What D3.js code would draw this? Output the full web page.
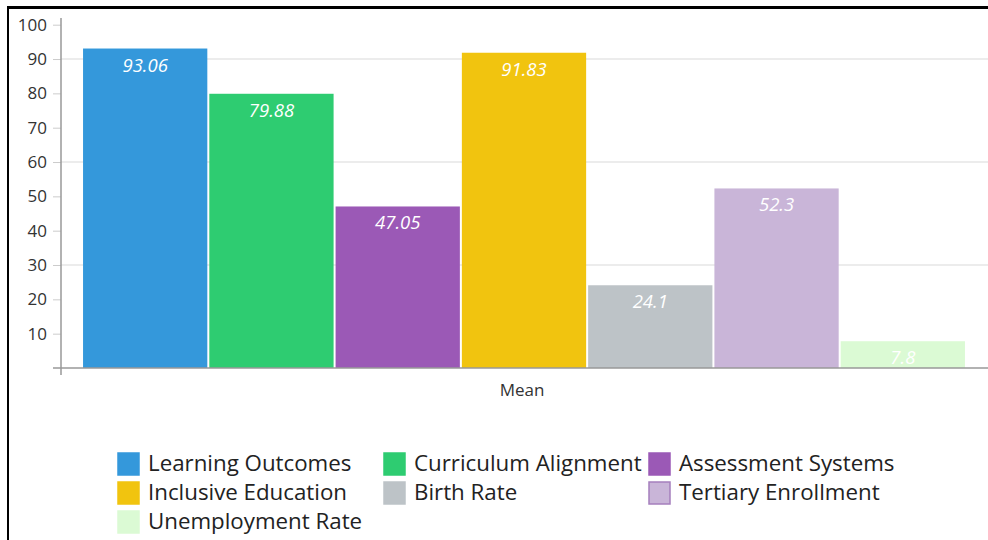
<!DOCTYPE html>
<html>
<head>
<meta charset="utf-8">
<script src="https://cdn.jsdelivr.net/npm/d3@7"></script>
<style>
  body { margin: 0; background: #fff; font-family: "Open Sans", sans-serif; }
  .frame { position: absolute; left: 7px; top: 6px; width: 1000px; height: 600px;
           border-left: 2px solid #000; border-top: 3px solid #000; }
</style>
</head>
<body>
<div class="frame"></div>
<div id="chart" style="position:absolute;left:0;top:0;"></div>
<script>
// bar chart, one category with seven series

var categories = ["Mean"];
var seriesNames = ["Learning Outcomes", "Curriculum Alignment", "Assessment Systems",
                   "Inclusive Education", "Birth Rate", "Tertiary Enrollment", "Unemployment Rate"];
var seriesValues = [93.06, 79.88, 47.05, 91.83, 24.1, 52.3, 7.8];
var seriesColors = ["#3498db", "#2ecc71", "#9b59b6", "#f1c40f", "#bdc3c7", "#c9b5d8", "#dbfad4"];
var yTicks = [10, 20, 30, 40, 50, 60, 70, 80, 90, 100];
var gridTicks = [30, 60, 90];

var svgWidth = 988, svgHeight = 540;
var axisX = 61, axisY = 368;

var svg = d3.select("#chart")
    .append("svg")
    .attr("width", svgWidth)
    .attr("height", svgHeight);

var yScale = d3.scaleLinear()
    .domain([0, 100])
    .range([axisY, axisY - 343.3]);

var x0 = d3.scaleBand()
    .domain(categories)
    .range([axisX, 987])
    .paddingInner(0)
    .paddingOuter(21 / 882);

var x1 = d3.scaleBand()
    .domain(seriesNames)
    .range([0, x0.bandwidth()]);

// grid lines
svg.append("g")
    .selectAll("line")
    .data(gridTicks)
    .enter()
    .append("line")
    .attr("x1", axisX)
    .attr("x2", svgWidth)
    .attr("y1", d => yScale(d))
    .attr("y2", d => yScale(d))
    .attr("stroke", "#e6e6e6")
    .attr("stroke-width", 1.5);

// bars
var data = seriesNames.map((s, i) => ({name: s, value: seriesValues[i], color: seriesColors[i]}));

var barGroup = svg.selectAll(".cat")
    .data(categories)
    .enter()
    .append("g")
    .attr("class", "cat")
    .attr("transform", d => "translate(" + x0(d) + ",0)");

barGroup.selectAll("rect")
    .data(data)
    .enter()
    .append("rect")
    .attr("x", d => x1(d.name) + 1)
    .attr("y", d => yScale(d.value))
    .attr("width", x1.bandwidth() - 2)
    .attr("height", d => yScale(0) - yScale(d.value))
    .attr("fill", d => d.color);

barGroup.selectAll("text")
    .data(data)
    .enter()
    .append("text")
    .attr("x", d => x1(d.name) + x1.bandwidth() / 2)
    .attr("y", d => yScale(d.value) + 23)
    .attr("text-anchor", "middle")
    .attr("font-size", "18.5px")
    .attr("font-style", "italic")
    .attr("fill", "#fff")
    .text(d => d.value);

// axes
var leftAxis = d3.axisLeft(yScale)
    .tickValues(yTicks)
    .tickSize(8)
    .tickPadding(6);

var yAxisG = svg.append("g")
    .attr("transform", "translate(" + axisX + ",0)")
    .call(leftAxis);
yAxisG.select(".domain").remove();
yAxisG.selectAll(".tick line").attr("stroke", "#ccc");
yAxisG.selectAll(".tick text")
    .attr("font-family", "Open Sans")
    .attr("font-size", "17px")
    .attr("fill", "#333");

svg.append("line")
    .attr("x1", axisX).attr("x2", axisX)
    .attr("y1", 18).attr("y2", 375)
    .attr("stroke", "#999").attr("stroke-width", 1.5);

svg.append("line")
    .attr("x1", 53).attr("x2", svgWidth)
    .attr("y1", axisY).attr("y2", axisY)
    .attr("stroke", "#999").attr("stroke-width", 1.5);

// category label
svg.selectAll(".catLabel")
    .data(categories)
    .enter()
    .append("text")
    .attr("class", "catLabel")
    .attr("x", d => x0(d) + x0.bandwidth() / 2 - 2)
    .attr("y", 396)
    .attr("text-anchor", "middle")
    .attr("font-size", "17px")
    .attr("fill", "#333")
    .text(d => d);

// legend
var legendCols = [117, 383, 648];
var legendRows = [463, 492, 521];

var legend = svg.append("g").attr("class", "legend");
var items = legend.selectAll("g")
    .data(data)
    .enter()
    .append("g")
    .attr("transform", (d, i) => "translate(" + legendCols[i % 3] + "," + legendRows[Math.floor(i / 3)] + ")");

items.append("rect")
    .attr("x", 1)
    .attr("y", -10)
    .attr("width", 21)
    .attr("height", 22)
    .attr("fill", d => d.color)
    .attr("stroke", d => d.name == "Tertiary Enrollment" ? "#a57fbd" : d.color)
    .attr("stroke-width", 1.5);

items.append("text")
    .attr("x", 31)
    .attr("y", 8)
    .attr("font-size", "22.3px")
    .attr("fill", "#222")
    .text(d => d.name);
</script>
</body>
</html>
